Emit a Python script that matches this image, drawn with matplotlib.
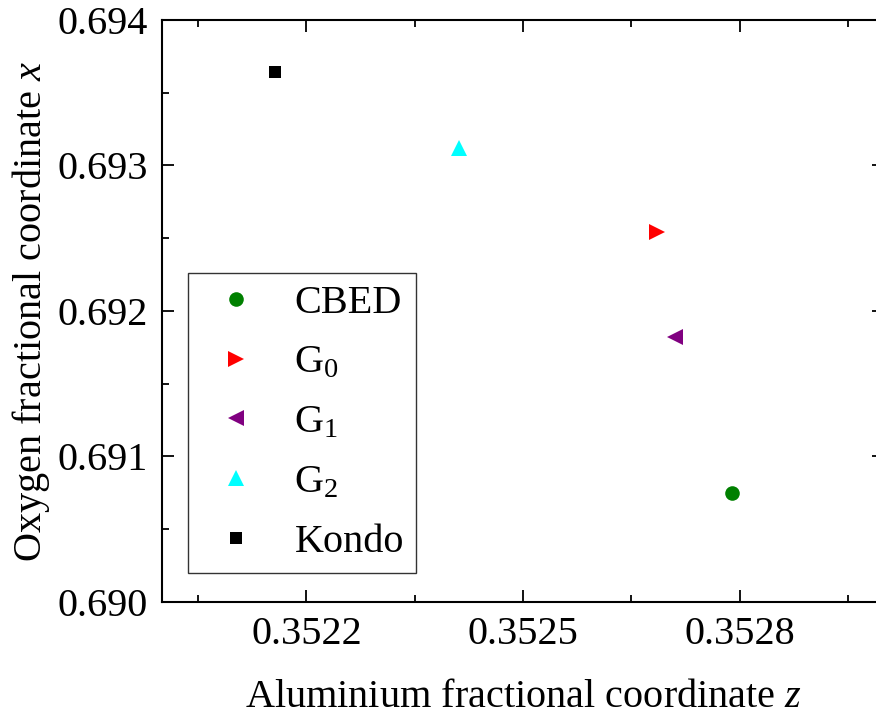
import matplotlib
matplotlib.use("Agg")
import matplotlib.pyplot as plt
from matplotlib.ticker import MultipleLocator, AutoMinorLocator, FormatStrFormatter

plt.rcParams['font.family'] = ['Liberation Serif', 'DejaVu Serif']
plt.rcParams['mathtext.fontset'] = 'custom'
plt.rcParams['mathtext.rm'] = 'Liberation Serif'
plt.rcParams['mathtext.it'] = 'Liberation Serif:italic'

# data
labels = ['CBED', r'G$_0$', r'G$_1$', r'G$_2$', 'Kondo']
al_z = [0.35279, 0.352686, 0.352711, 0.352412, 0.352157]
ox_x = [0.690749, 0.692543, 0.691821, 0.693120, 0.693643]
markers = ['o', '>', '<', '^', 's']
colors = ['#008000', '#ff0000', '#800080', '#00ffff', '#000000']
sizes = [10.5, 11, 11, 11.5, 9]

fig = plt.figure(figsize=(8.76, 7.2), dpi=100)
ax = fig.add_axes([162 / 876, 118 / 720, 722 / 876, 582 / 720])

for z, x, m, c, s, lab in zip(al_z, ox_x, markers, colors, sizes, labels):
    ax.plot([z], [x], linestyle='none', marker=m, color=c, markersize=s,
            markeredgewidth=0, label=lab)

ax.set_xlim(0.3520, 0.3530)
ax.set_ylim(0.690, 0.694)
ax.xaxis.set_major_locator(MultipleLocator(0.0003))
ax.xaxis.set_minor_locator(AutoMinorLocator(2))
ax.yaxis.set_major_locator(MultipleLocator(0.001))
ax.yaxis.set_minor_locator(AutoMinorLocator(2))
ax.xaxis.set_major_formatter(FormatStrFormatter('%.4f'))
ax.yaxis.set_major_formatter(FormatStrFormatter('%.3f'))

for sp in ax.spines.values():
    sp.set_linewidth(1.5)
ax.tick_params(which='both', direction='in', top=True, right=True,
               labelsize=29, width=1.3)
ax.tick_params(which='major', length=8.6)
ax.tick_params(which='minor', length=5)
ax.tick_params(axis='x', pad=10)
ax.tick_params(axis='y', pad=10)

ax.set_xlabel(r'Aluminium fractional coordinate $z$', fontsize=29, labelpad=19)
ax.set_ylabel(r'Oxygen fractional coordinate $x$', fontsize=29, labelpad=4)

leg = ax.legend(loc='upper left', bbox_to_anchor=(187.7 / 876, 1 - 272.7 / 720),
                bbox_transform=fig.transFigure, fontsize=29, frameon=True,
                fancybox=False, edgecolor='black', borderpad=0.3,
                handlelength=1.8, handletextpad=0.55, labelspacing=0.56,
                numpoints=1, borderaxespad=0)
leg.get_frame().set_linewidth(1.0)

fig.savefig('out.png', dpi=100)
